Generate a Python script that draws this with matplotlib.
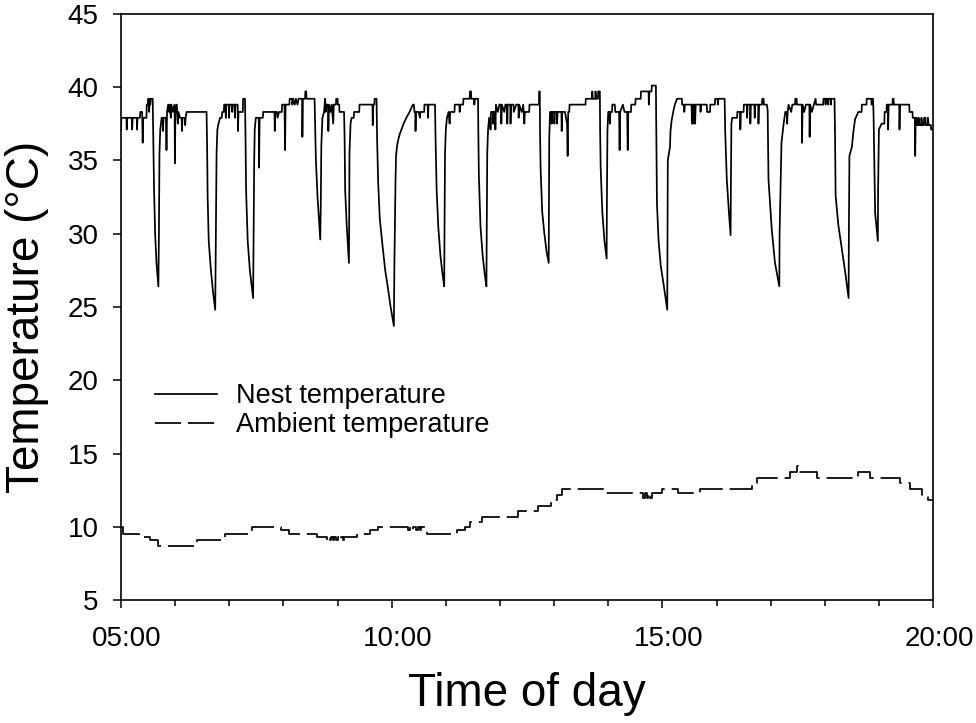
import numpy as np
import matplotlib
matplotlib.use("Agg")
import matplotlib.pyplot as plt
from matplotlib.ticker import MultipleLocator, FixedLocator, FuncFormatter
from matplotlib.transforms import ScaledTranslation

plt.rcParams['font.family'] = ['Liberation Sans', 'DejaVu Sans']

# nest temperature trace: (hour of day, degC)
nest_pts = [
    (5.00, 37.1), (5.005, 37.9), (5.10, 37.9), (5.105, 37.1), (5.115, 37.9), (5.20, 37.9),
    (5.205, 37.1), (5.215, 37.9), (5.29, 37.9), (5.295, 37.1), (5.305, 37.9), (5.35, 37.9),
    (5.355, 38.3), (5.39, 38.3), (5.40, 36.2), (5.41, 37.9), (5.47, 37.9), (5.475, 38.8),
    (5.50, 38.8), (5.505, 39.2), (5.52, 38.3), (5.53, 39.2), (5.54, 38.8), (5.55, 39.2), (5.585, 39.2),
    # dip 1
    (5.595, 36.5), (5.61, 33.0), (5.63, 30.0), (5.655, 28.0), (5.69, 26.4), (5.70, 30.0),
    (5.71, 35.5), (5.725, 37.1), (5.75, 37.9),
    (5.77, 37.9), (5.775, 37.0), (5.785, 37.9), (5.83, 37.9), (5.84, 35.7), (5.85, 38.3),
    (5.87, 38.8), (5.89, 38.3), (5.90, 38.8), (5.92, 37.9), (5.93, 38.8), (5.96, 38.3),
    (5.99, 38.8), (5.995, 34.8), (6.005, 38.3), (6.03, 38.8), (6.05, 37.5), (6.06, 38.3),
    (6.09, 37.9), (6.12, 37.9), (6.125, 37.0), (6.135, 37.9), (6.18, 37.9), (6.185, 37.4),
    (6.195, 37.9), (6.21, 38.3), (6.58, 38.3),
    # dip 2
    (6.59, 36.0), (6.60, 32.5), (6.62, 29.5), (6.66, 27.5), (6.70, 26.0), (6.74, 24.8),
    (6.75, 29.0), (6.765, 35.5), (6.78, 37.1), (6.80, 37.5), (6.83, 37.9),
    (6.86, 37.9), (6.87, 38.3), (6.90, 38.3), (6.905, 38.8), (6.93, 38.8), (6.935, 37.9),
    (6.945, 38.8), (6.99, 38.8), (6.995, 37.9), (7.005, 38.8), (7.05, 38.8), (7.055, 38.3),
    (7.065, 38.8), (7.10, 38.8), (7.105, 37.9), (7.115, 38.8), (7.155, 38.8), (7.16, 37.0),
    (7.17, 38.3), (7.25, 38.3), (7.255, 39.2), (7.29, 39.2),
    # dip 3
    (7.30, 36.5), (7.31, 33.0), (7.34, 29.5), (7.38, 27.5), (7.42, 26.2), (7.44, 25.6),
    (7.45, 30.0), (7.46, 35.0), (7.47, 37.1), (7.49, 37.9),
    (7.52, 37.9), (7.545, 37.9), (7.55, 34.5), (7.56, 37.9), (7.62, 37.9), (7.625, 38.3),
    (7.835, 38.3), (7.84, 37.0), (7.85, 38.3), (7.88, 38.3), (7.89, 37.9), (7.92, 38.3),
    (7.97, 38.3), (7.975, 38.8), (8.02, 38.8), (8.03, 35.7), (8.04, 38.8), (8.11, 38.8),
    (8.115, 39.2), (8.16, 39.2), (8.165, 38.8), (8.18, 39.2), (8.21, 38.8), (8.23, 39.2),
    (8.26, 38.8), (8.28, 39.2), (8.345, 39.2), (8.35, 36.6), (8.36, 39.2), (8.40, 39.2),
    (8.405, 39.7), (8.42, 39.7), (8.425, 39.2), (8.575, 39.2),
    # dip 4
    (8.585, 37.5), (8.60, 35.0), (8.63, 32.5), (8.66, 30.8), (8.68, 29.6), (8.69, 32.0),
    (8.70, 36.0), (8.72, 37.9),
    (8.75, 38.3), (8.76, 38.8), (8.77, 39.2), (8.78, 38.3), (8.80, 38.8), (8.825, 38.8),
    (8.83, 37.0), (8.84, 38.8), (8.87, 38.3), (8.89, 38.8), (8.92, 37.5), (8.93, 38.8),
    (8.97, 38.8), (8.975, 39.2), (9.00, 39.2), (9.005, 38.8), (9.03, 38.8), (9.035, 38.3), (9.12, 38.3),
    # dip 5
    (9.13, 36.5), (9.14, 33.0), (9.17, 30.5), (9.21, 28.0), (9.215, 31.0), (9.22, 35.5),
    (9.24, 37.5), (9.26, 37.9),
    (9.30, 37.9), (9.305, 38.3), (9.40, 38.3), (9.405, 38.8), (9.645, 38.8), (9.65, 37.4),
    (9.66, 38.8), (9.68, 38.8), (9.685, 39.2), (9.72, 39.2),
    # dip 6
    (9.73, 36.5), (9.75, 33.5), (9.78, 31.0), (9.83, 29.2), (9.88, 27.5), (9.93, 26.3),
    (9.98, 25.0), (10.04, 23.7), (10.05, 28.0), (10.07, 33.5), (10.08, 35.3), (10.10, 36.0),
    (10.12, 36.4), (10.15, 36.8), (10.18, 37.1), (10.22, 37.5), (10.27, 37.9), (10.33, 38.3),
    (10.39, 38.8),
    (10.41, 38.8), (10.42, 38.3), (10.435, 38.3), (10.44, 37.0), (10.45, 38.3), (10.50, 38.3),
    (10.52, 37.9), (10.53, 38.3), (10.60, 38.3), (10.605, 38.8), (10.665, 38.8), (10.67, 37.9),
    (10.68, 38.8), (10.80, 38.8),
    # dip 7
    (10.81, 36.5), (10.83, 33.0), (10.86, 30.5), (10.90, 28.5), (10.94, 27.2), (10.97, 26.4),
    (10.975, 30.0), (10.985, 35.5), (11.00, 37.1), (11.02, 37.9),
    (11.05, 38.3), (11.07, 37.5), (11.08, 38.3), (11.16, 38.3), (11.165, 38.8), (11.25, 38.8),
    (11.255, 38.3), (11.265, 38.8), (11.32, 38.8), (11.325, 39.2), (11.44, 39.2), (11.445, 39.7),
    (11.465, 39.7), (11.47, 39.2), (11.52, 39.2), (11.525, 38.8), (11.54, 39.2), (11.595, 39.2),
    # dip 8
    (11.60, 37.0), (11.61, 34.0), (11.64, 30.5), (11.68, 28.5), (11.72, 27.2), (11.75, 26.4),
    (11.755, 30.0), (11.765, 35.5), (11.78, 37.1), (11.80, 37.9),
    (11.82, 37.9), (11.825, 37.1), (11.835, 38.3), (11.87, 38.3), (11.875, 37.5), (11.885, 38.3),
    (11.91, 38.3), (11.915, 37.1), (11.925, 38.8), (11.96, 38.3), (11.99, 38.8), (12.02, 38.8),
    (12.025, 37.5), (12.035, 38.8), (12.08, 38.3), (12.10, 38.8), (12.13, 38.8), (12.135, 37.5),
    (12.145, 38.8), (12.19, 38.8), (12.195, 37.5), (12.205, 38.8), (12.25, 38.8), (12.255, 38.3),
    (12.30, 38.8), (12.34, 38.8), (12.345, 37.9), (12.355, 38.8), (12.40, 38.3), (12.43, 38.8),
    (12.45, 37.5), (12.46, 38.3), (12.54, 38.3), (12.545, 38.8), (12.72, 38.8), (12.725, 39.7),
    (12.735, 39.7),
    # dip 9
    (12.74, 37.0), (12.75, 34.5), (12.78, 31.5), (12.82, 30.0), (12.86, 28.8), (12.90, 28.0),
    (12.905, 32.0), (12.91, 36.5), (12.925, 38.3),
    (12.95, 38.3), (12.955, 37.5), (12.965, 38.3), (13.00, 38.3), (13.005, 37.5), (13.015, 38.3),
    (13.05, 38.3), (13.055, 37.5), (13.065, 38.3), (13.135, 38.3), (13.14, 37.0), (13.15, 38.3),
    (13.20, 38.3), (13.24, 37.5), (13.25, 35.3), (13.26, 38.3), (13.28, 38.3), (13.285, 38.8),
    (13.58, 38.8), (13.585, 39.2), (13.70, 39.2), (13.705, 39.7), (13.715, 39.2), (13.76, 39.2),
    (13.765, 39.7), (13.775, 39.2), (13.81, 39.2), (13.815, 39.7), (13.845, 39.7),
    # dip 10
    (13.85, 37.0), (13.86, 34.5), (13.89, 31.5), (13.93, 29.5), (13.97, 28.3), (13.975, 32.0),
    (13.985, 37.0), (14.00, 38.3),
    (14.02, 38.3), (14.03, 37.5), (14.04, 38.3), (14.07, 38.3), (14.075, 38.8), (14.12, 38.8),
    (14.13, 38.3), (14.20, 38.3), (14.21, 35.7), (14.22, 38.3), (14.27, 38.8), (14.30, 38.3),
    (14.35, 38.3), (14.36, 35.7), (14.37, 38.3), (14.42, 38.3), (14.425, 38.8), (14.50, 38.8),
    (14.505, 39.2), (14.60, 39.2), (14.605, 39.7), (14.745, 39.7), (14.75, 38.8), (14.76, 39.7),
    (14.80, 39.7), (14.805, 40.1), (14.88, 40.1),
    # dip 11
    (14.89, 36.0), (14.90, 32.0), (14.93, 29.5), (14.97, 27.8), (15.02, 26.6), (15.09, 24.8),
    (15.095, 30.0), (15.10, 35.0), (15.14, 35.9), (15.15, 37.0), (15.17, 37.7), (15.20, 38.3),
    (15.23, 38.8), (15.27, 39.2),
    (15.36, 39.2), (15.365, 38.8), (15.40, 38.8), (15.405, 38.3), (15.415, 38.8), (15.54, 38.8),
    (15.545, 37.5), (15.555, 38.8), (15.57, 38.8), (15.575, 37.5), (15.585, 38.8), (15.60, 38.8),
    (15.605, 37.5), (15.615, 38.8), (15.70, 38.8), (15.705, 38.3), (15.715, 38.8), (15.82, 38.8),
    (15.825, 38.3), (15.88, 38.3), (15.885, 38.8), (15.97, 38.8), (15.975, 39.2), (16.02, 39.2),
    (16.025, 38.8), (16.035, 39.2), (16.15, 39.2),
    # dip 12
    (16.16, 37.0), (16.19, 33.7), (16.23, 31.4), (16.26, 29.9), (16.265, 33.0), (16.275, 37.5),
    (16.29, 37.9),
    (16.38, 37.9), (16.385, 38.3), (16.435, 38.3), (16.44, 37.1), (16.45, 38.3), (16.50, 38.3),
    (16.505, 38.8), (16.56, 38.8), (16.565, 37.9), (16.575, 38.8), (16.62, 38.8), (16.625, 37.5),
    (16.635, 38.8), (16.70, 38.8), (16.705, 37.9), (16.715, 38.8), (16.77, 38.8), (16.775, 37.5),
    (16.785, 38.8), (16.84, 38.8), (16.845, 39.2), (16.87, 39.2), (16.875, 38.8), (16.93, 38.8),
    # dip 13
    (16.945, 38.4), (16.96, 33.7), (17.02, 30.3), (17.08, 28.0), (17.16, 26.4), (17.165, 30.0),
    (17.20, 36.2), (17.24, 37.5), (17.27, 38.3),
    (17.30, 38.3), (17.305, 37.5), (17.315, 38.3), (17.33, 38.8), (17.38, 38.3), (17.40, 38.8),
    (17.45, 38.8), (17.455, 39.2), (17.48, 39.2), (17.485, 38.8), (17.575, 38.8), (17.58, 36.2),
    (17.59, 38.8), (17.62, 38.3), (17.65, 38.8), (17.715, 38.8), (17.72, 36.6), (17.73, 38.8),
    (17.76, 38.3), (17.80, 38.8), (17.83, 39.2), (17.84, 38.8), (17.97, 38.8), (17.975, 39.2),
    (18.01, 39.2), (18.015, 38.8), (18.02, 39.2), (18.06, 39.2), (18.065, 38.8), (18.07, 39.2),
    (18.11, 39.2), (18.115, 38.8), (18.12, 39.2), (18.18, 39.2),
    # dip 14
    (18.19, 36.5), (18.20, 32.6), (18.25, 30.6), (18.29, 29.6), (18.34, 28.3), (18.38, 27.3),
    (18.44, 25.6), (18.445, 30.0), (18.455, 35.3), (18.50, 35.9), (18.53, 37.0), (18.56, 37.8),
    (18.62, 38.3), (18.68, 38.3), (18.685, 38.8), (18.77, 38.8), (18.775, 39.2), (18.86, 39.2),
    (18.865, 38.8), (18.875, 39.2), (18.89, 39.2),
    # dip 15
    (18.90, 38.3), (18.93, 31.4), (18.98, 29.5), (18.985, 33.0), (19.00, 37.1), (19.05, 37.5),
    (19.10, 37.5), (19.105, 38.3), (19.14, 38.3), (19.145, 38.8), (19.165, 38.8), (19.17, 37.1),
    (19.18, 38.8), (19.25, 38.8), (19.255, 39.2), (19.27, 39.2), (19.275, 38.8), (19.375, 38.8),
    (19.38, 37.1), (19.39, 38.8), (19.56, 38.8), (19.565, 38.3), (19.62, 38.3), (19.625, 37.9),
    (19.665, 37.9), (19.67, 35.3), (19.68, 37.9), (19.70, 37.9), (19.705, 37.4), (19.73, 37.4),
    (19.735, 37.9), (19.75, 37.4), (19.78, 37.4), (19.785, 37.9), (19.80, 37.4), (19.83, 37.4),
    (19.835, 37.9), (19.86, 37.9), (19.865, 37.4), (19.90, 37.4), (19.905, 37.9), (19.92, 37.4),
    (19.96, 37.4), (19.965, 37.1), (20.0, 37.1),
]

# ambient temperature: step changes (hour, degC)
amb_time = [5.00, 5.04, 5.33, 5.54, 5.69, 6.41, 6.92, 7.35, 7.42, 7.95, 8.10, 8.62,
            8.80, 8.82, 8.86, 8.88, 8.92, 8.94, 8.98, 9.00, 9.04, 9.06, 9.10, 9.12,
            9.35, 9.60, 9.75, 10.30, 10.33, 10.37, 10.40, 10.45, 10.48, 10.52, 10.55,
            10.65, 11.20, 11.36, 11.45, 11.66, 12.34, 12.71, 12.95, 13.05, 13.14, 13.94,
            14.65, 14.68, 14.71, 14.74, 14.77, 14.80, 15.00, 15.28, 15.70, 16.65, 16.74,
            17.35, 17.48, 17.54, 17.85, 18.62, 18.84, 19.39, 19.58, 19.80, 19.91, 20.0]
amb_temp = [9.96, 9.5, 9.32, 9.1, 8.69, 9.1, 9.5, 9.78, 9.96, 9.78, 9.5, 9.32,
            9.1, 9.32, 9.1, 9.32, 9.1, 9.32, 9.1, 9.32, 9.1, 9.32, 9.1, 9.32,
            9.5, 9.78, 9.96, 9.78, 9.96, 9.78, 9.96, 9.78, 9.96, 9.78, 9.96,
            9.5, 9.78, 9.96, 10.35, 10.69, 11.08, 11.44, 11.83, 12.2, 12.58, 12.28,
            11.95, 12.28, 11.95, 12.28, 11.95, 12.28, 12.58, 12.28, 12.58, 13.0, 13.35,
            13.76, 14.15, 13.76, 13.35, 13.76, 13.35, 12.96, 12.58, 12.17, 11.83, 11.83]

nest_time = [p[0] for p in nest_pts]
nest_temp = [p[1] for p in nest_pts]

fig = plt.figure(figsize=(9.76, 7.23), dpi=100)
ax = fig.add_axes([0.124, 0.170, 0.832, 0.811])

ax.plot(nest_time, nest_temp, color='black', lw=1.25, label='Nest temperature')
ax.plot(amb_time, amb_temp, color='black', lw=1.25, drawstyle='steps-post',
        dashes=(15, 4), label='Ambient temperature')

ax.set_xlim(5, 20)
ax.set_ylim(5, 45)
ax.xaxis.set_major_locator(FixedLocator([5, 10, 15, 20]))
ax.xaxis.set_minor_locator(MultipleLocator(1))
ax.xaxis.set_major_formatter(FuncFormatter(lambda v, p: '%02d:00' % int(round(v))))
ax.yaxis.set_major_locator(MultipleLocator(5))

ax.tick_params(axis='both', which='major', direction='out', length=6, width=1.1,
               labelsize=20, pad=10)
ax.tick_params(axis='x', which='major', pad=13)
ax.tick_params(axis='x', which='minor', direction='out', length=4, width=1.1)
ax.tick_params(top=False, right=False, which='both')
for s in ax.spines.values():
    s.set_linewidth(1.2)

# tick labels in the reference sit slightly right of their ticks
shift = ScaledTranslation(6 / 100, 0, fig.dpi_scale_trans)
for lab in ax.get_xticklabels():
    lab.set_transform(lab.get_transform() + shift)

ax.set_xlabel('Time of day', fontsize=33)
ax.set_ylabel('Temperature (°C)', fontsize=33)
ax.xaxis.set_label_coords(0.50, -0.123)
ax.yaxis.set_label_coords(-0.089, 0.483)

ax.legend(loc='upper left', bbox_to_anchor=(0.042, 0.37), frameon=False, fontsize=19.5,
          handlelength=2.3, handletextpad=0.7, labelspacing=0.12, borderpad=0,
          borderaxespad=0)

fig.savefig('out.png', dpi=100)
